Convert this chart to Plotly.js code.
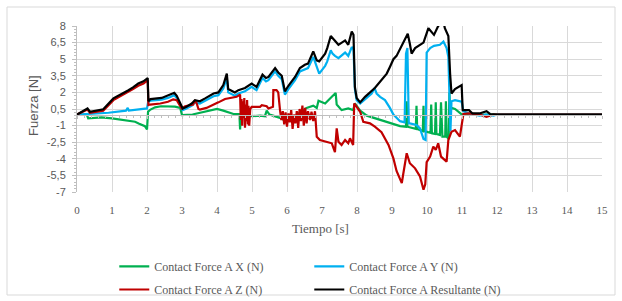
<!DOCTYPE html>
<html>
<head>
<meta charset="utf-8">
<script src="https://cdn.plot.ly/plotly-3.0.1.min.js"></script>
<style>html,body{margin:0;padding:0;background:#fff;}#chart{width:622px;height:301px;}</style>
</head>
<body>
<div id="chart"></div>
<script>
// ---- Data ----
const seriesNames = ["Contact Force A X (N)", "Contact Force A Y (N)", "Contact Force A Z (N)", "Contact Force A Resultante (N)"];

const tX = [0,0.28,0.32,0.7,1.0,1.37,1.66,1.76,1.94,2.0,2.03,2.1,2.23,2.4,2.8,2.95,3.0,3.3,3.61,3.9,4.0,4.18,4.47,4.64,4.66,4.68,4.85,5.0,5.23,5.37,5.42,5.5,5.6,5.8,5.94,6.23,6.37,6.51,6.56,6.75,6.85,6.9,7.09,7.28,7.39,7.42,7.56,7.75,7.89,7.94,8.09,8.28,8.56,8.75,9.04,9.23,9.4,9.42,9.44,9.61,9.68,9.7,9.72,9.88,9.9,9.92,9.99,10.1,10.12,10.14,10.23,10.25,10.27,10.37,10.4,10.42,10.44,10.52,10.54,10.56,10.62,10.64,10.66,10.7,10.8,11.0,11.2,12,15];
const vX = [0,0,-0.35,-0.25,-0.35,-0.5,-0.65,-0.8,-1.05,-1.35,0.25,0.45,0.65,0.75,0.72,0.6,-0.05,0,0.2,0.4,0.5,0.35,0.05,0.05,-1.35,0,-0.1,-0.15,-0.1,-0.15,0.35,0,-0.1,-0.3,-0.55,-0.2,0.2,0.45,0.6,0.8,0.6,1.25,1.0,1.6,1.95,0.9,0.4,0.55,0.4,1.0,0.35,-0.1,-0.4,-0.55,-0.9,-1.05,-1.1,1.2,-1.1,-1.25,-1.3,0.8,-1.3,-1.5,0.8,-1.5,-1.55,-1.65,0.9,-1.7,-1.75,1.1,-1.75,-1.85,1.1,-1.9,-2.0,-2.0,1.2,-2.0,-2.2,2.0,0.3,0.6,0.5,0,0,0,0];

const tY = [0,0.3,0.9,1.4,1.45,1.48,1.94,2.0,2.03,2.1,2.42,2.6,2.78,2.85,2.97,3.02,3.13,3.28,3.37,3.51,3.66,3.9,4.04,4.18,4.28,4.32,4.51,4.61,4.8,4.99,5.13,5.23,5.3,5.4,5.47,5.66,5.75,5.85,5.94,6.04,6.23,6.37,6.51,6.6,6.75,6.85,6.92,7.09,7.15,7.25,7.3,7.37,7.47,7.66,7.75,7.85,7.9,7.94,7.99,8.09,8.23,8.42,8.5,8.56,8.66,8.8,8.94,9.04,9.23,9.36,9.4,9.44,9.48,9.51,9.7,9.8,9.9,9.96,9.99,10.09,10.2,10.37,10.47,10.56,10.61,10.65,10.67,10.7,10.8,10.99,11.04,11.2,11.5,11.7,11.9,12,15];
const vY = [0,0.05,0.16,0.35,0.6,0.35,0.5,0.55,1.1,1.25,1.35,1.5,1.75,1.5,0.7,0.4,0.55,0.8,1.1,1.0,1.25,1.65,1.75,2.35,3.3,2.0,1.7,1.9,2.1,2.5,2.2,2.9,3.3,3.0,3.1,3.9,3.5,3.2,1.8,2.3,3.1,3.9,4.1,4.2,5.2,4.2,3.7,4.4,4.8,5.8,5.5,5.3,5.1,5.6,5.3,6.1,5.9,2.3,1.3,1.0,1.4,1.9,2.4,1.9,1.6,1.3,0.6,0.0,-0.6,-0.7,5.5,6.0,-0.8,-0.8,-0.95,-1.25,-2.2,-2.3,5.6,6.0,6.2,6.3,6.6,6.0,5.2,1.2,-1.5,1.2,1.3,1.16,0.3,0.1,-0.1,0,-0.1,0,0];

const tZ = [0,0.3,0.37,0.75,1.04,1.25,1.47,1.6,1.75,1.9,2.02,2.04,2.09,2.38,2.6,2.75,2.85,2.99,3.09,3.32,3.37,3.42,3.47,3.51,3.7,3.85,4.04,4.23,4.4,4.56,4.66,4.68,4.7,4.72,4.74,4.76,4.78,4.8,4.82,4.84,4.86,4.88,4.9,4.92,4.95,4.99,5.23,5.28,5.42,5.47,5.6,5.61,5.7,5.75,5.8,5.84,5.88,5.92,5.96,6.0,6.04,6.08,6.12,6.16,6.2,6.24,6.28,6.32,6.36,6.4,6.44,6.48,6.52,6.56,6.6,6.66,6.7,6.75,6.8,6.85,6.94,7.09,7.2,7.28,7.37,7.42,7.47,7.56,7.66,7.75,7.8,7.89,7.92,7.99,8.09,8.18,8.37,8.51,8.7,8.9,9.04,9.13,9.28,9.32,9.42,9.51,9.66,9.8,9.9,9.95,9.99,10.09,10.18,10.25,10.32,10.4,10.56,10.61,10.7,10.8,10.94,11.04,11.2,11.5,11.7,11.9,15];
const vZ = [0,0.45,0.15,0.35,1.3,1.65,2.05,2.3,2.6,2.8,3.1,0.85,0.9,1.0,1.15,1.37,1.3,0.55,0.75,0.9,1.3,1.0,0.5,0.45,0.6,0.8,1.1,1.4,1.5,1.6,1.8,-0.5,1.4,-1.0,1.2,-0.3,1.5,-1.2,0.9,-0.6,1.3,-0.9,0.8,-1.0,0.5,0.7,0.7,0.85,0.75,0.55,0.7,2.2,2.2,2.0,0.4,-0.5,0.3,-0.9,0.2,-1.1,0.1,-0.7,0.4,-1.3,0.0,-0.8,0.3,-1.2,0.5,-0.6,0.8,-1.0,0.6,-0.8,0.3,-0.5,0.25,-0.6,0.3,-2.0,-2.3,-2.45,-2.5,-2.6,-3.4,-1.25,-2.45,-2.75,-2.3,-2.6,-2.15,-2.75,1.0,0.7,0.25,-0.65,-0.8,-1.1,-1.6,-2.75,-3.96,-5.1,-6.2,-5.4,-3.5,-4.4,-4.86,-5.6,-6.8,-6.3,-4.3,-3.8,-2.9,-3.2,-2.6,-3.8,-4.26,-2.3,-1.55,-1.4,-2.0,0.05,0.1,0,-0.2,0,0];

const tR = [0,0.3,0.37,0.75,1.04,1.25,1.47,1.6,1.75,1.9,2.02,2.04,2.1,2.42,2.6,2.78,2.85,2.97,3.02,3.13,3.28,3.37,3.51,3.66,3.9,4.04,4.18,4.28,4.32,4.51,4.61,4.8,4.99,5.13,5.23,5.3,5.4,5.47,5.66,5.75,5.85,5.94,6.04,6.23,6.37,6.51,6.6,6.75,6.85,6.92,7.09,7.15,7.25,7.3,7.37,7.47,7.66,7.75,7.85,7.9,7.94,7.99,8.09,8.23,8.51,8.7,8.85,8.94,9.04,9.13,9.28,9.37,9.45,9.51,9.56,9.66,9.9,10.04,10.13,10.2,10.32,10.47,10.51,10.61,10.66,10.7,10.8,10.99,11.02,11.2,11.3,11.5,11.7,11.8,12,15];
const vR = [0,0.55,0.25,0.47,1.46,1.8,2.2,2.45,2.8,3.0,3.3,1.2,1.4,1.5,1.7,1.97,1.7,0.86,0.55,0.7,1.0,1.3,1.2,1.46,1.9,2.0,2.66,3.7,2.3,2.0,2.2,2.4,2.8,2.5,3.2,3.6,3.3,3.4,4.2,3.8,3.5,2.1,2.6,3.4,4.2,4.5,4.6,5.7,4.9,4.8,5.5,6.0,7.1,6.9,6.6,6.3,6.7,6.3,7.5,7.2,2.5,1.5,1.1,1.6,2.4,3.1,3.7,4.3,5.0,5.3,6.2,6.7,7.3,6.4,5.5,6.0,6.5,7.8,7.4,7.2,8.0,8.4,7.8,7.1,3.7,1.9,2.3,2.66,0.4,0.4,0.1,0.1,0.3,0.05,0,0];

const yTickVals = [-7,-5.5,-4,-2.5,-1,0.5,2,3.5,5,6.5,8];
const yTickText = ["-7","-5,5","-4","-2,5","-1","0,5","2","3,5","5","6,5","8"];
const xTickVals = [0,1,2,3,4,5,6,7,8,9,10,11,12,13,14,15];

const colors = ["#00B050", "#00B0F0", "#C00000", "#000000"];
const serif = "Liberation Serif, serif";
const sans = "Liberation Sans, Arial, sans-serif";

const xs = [tX, tY, tZ, tR];
const ys = [vX, vY, vZ, vR];
const legendOf = ["legend", "legend", "legend2", "legend2"];
const traces = xs.map((x, i) => ({
  type: "scatter", mode: "lines", x: x, y: ys[i], name: seriesNames[i],
  line: {color: colors[i], width: 2.2}, legend: legendOf[i]
}));
// helper trace carrying the horizontal axis drawn through zero (minor ticks)
traces.push({type: "scatter", mode: "lines", x: [0, 15], y: [0, 0], xaxis: "x2", yaxis: "y",
  showlegend: false, hoverinfo: "skip", line: {color: "rgba(0,0,0,0)", width: 0}});

const legendFont = {family: serif, size: 12, color: "#595959"};
const layout = {
  width: 622, height: 301,
  margin: {l: 77, r: 20, t: 26, b: 109, autoexpand: false},
  paper_bgcolor: "#ffffff", plot_bgcolor: "#ffffff",
  showlegend: true,
  xaxis: {
    range: [0, 15], tickvals: xTickVals, ticktext: xTickVals.map(String),
    showgrid: true, gridcolor: "#D9D9D9", gridwidth: 1,
    zeroline: false, showline: false, ticks: "",
    tickfont: {family: serif, size: 11, color: "#595959"},
    ticklabelstandoff: 10
  },
  xaxis2: {
    overlaying: "x", anchor: "free", position: 7/15, range: [0, 15],
    showgrid: false, zeroline: false, showticklabels: false,
    showline: true, linecolor: "#BFBFBF", linewidth: 1,
    ticks: "outside", ticklen: 3, tickcolor: "#BFBFBF", dtick: 1,
    minor: {dtick: 0.2, ticks: "outside", ticklen: 2, tickcolor: "#BFBFBF"}
  },
  yaxis: {
    range: [-7, 8], tickvals: yTickVals, ticktext: yTickText,
    showgrid: true, gridcolor: "#D9D9D9", gridwidth: 1,
    zeroline: false, showline: true, linecolor: "#BFBFBF", linewidth: 1,
    ticks: "outside", ticklen: 4, tickcolor: "#BFBFBF",
    minor: {dtick: 0.3, tick0: -7, ticks: "outside", ticklen: 2, tickcolor: "#BFBFBF", showgrid: false},
    tickfont: {family: sans, size: 11, color: "#595959"},
    ticklabelstandoff: 4
  },
  legend: {orientation: "h", x: 0.071, y: -0.361, xanchor: "left", yanchor: "top",
    entrywidth: 150, font: legendFont, bgcolor: "rgba(0,0,0,0)", traceorder: "normal"},
  legend2: {orientation: "h", x: 0.071, y: -0.5, xanchor: "left", yanchor: "top",
    entrywidth: 150, font: legendFont, bgcolor: "rgba(0,0,0,0)", traceorder: "normal"},
  annotations: [{
    text: "Tiempo [s]", xref: "paper", yref: "paper", x: (320 - 77) / 525, y: (192 - 228) / 166,
    xanchor: "center", yanchor: "middle", showarrow: false,
    font: {family: serif, size: 13, color: "#595959"}
  }, {
    text: "Fuerza [N]", xref: "paper", yref: "paper", x: (33 - 77) / 525, y: (192 - 106) / 166,
    xanchor: "center", yanchor: "middle", showarrow: false, textangle: -90,
    font: {family: sans, size: 13, color: "#595959"}
  }],
  shapes: [{
    type: "rect", xref: "paper", yref: "paper",
    x0: (7 - 77) / 525, x1: (615 - 77) / 525, y0: (192 - 295) / 166, y1: (192 - 7) / 166,
    line: {color: "#D9D9D9", width: 1}, fillcolor: "rgba(0,0,0,0)", layer: "below"
  }]
};

Plotly.newPlot("chart", traces, layout, {displayModeBar: false, staticPlot: true});
</script>
</body>
</html>
